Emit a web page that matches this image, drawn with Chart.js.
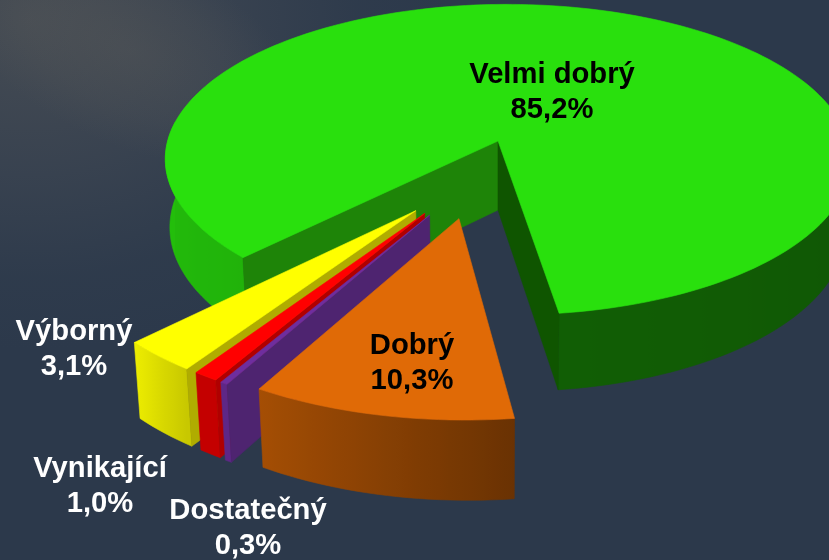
<!DOCTYPE html>
<html>
<head>
<meta charset="utf-8">
<title>Hodnocení</title>
<script src="https://cdn.jsdelivr.net/npm/chart.js@4/dist/chart.umd.min.js"></script>
<style>
  html, body { margin: 0; padding: 0; }
  body {
    position: relative;
    width: 829px; height: 560px; overflow: hidden;
    background:
      radial-gradient(ellipse 420px 330px at 30px 20px, rgba(78,82,86,.75), rgba(72,78,86,.45) 45%, rgba(60,70,82,.15) 78%, rgba(60,70,82,0) 100%),
      #2c394b;
  }
  #glow {
    position: absolute; left: -60px; top: -45px; width: 380px; height: 190px;
    transform: rotate(24deg);
    background: radial-gradient(ellipse closest-side, rgba(100,98,92,.28), rgba(100,98,92,.14) 60%, rgba(100,98,92,0) 100%);
  }
  canvas { display: block; position: relative; }
</style>
</head>
<body>
<div id="glow"></div>
<canvas id="pie" width="829" height="560"></canvas>
<script>
var categories = ["Velmi dobrý", "Dobrý", "Dostatečný", "Vynikající", "Výborný"];
var values = [85.2, 10.3, 0.3, 1.0, 3.1];

// slice styling, same order as categories
var topColors = ["#29e00d", "#e06a06", "#6e2e9e", "#ff0000", "#ffff00"];
var cutColors = [["#1e8408", "#0f5500"], [null, null], ["#4e2470", null], ["#b00000", null], ["#b0ac00", null]];
var wallShades = [
  [[90, .38], [172, .42], [225, .8], [270, .85]],
  [[171, .47], [209, .74]],
  [[200, .85], [220, .85]],
  [[200, .77], [220, .77]],
  [[213, .78], [225, .94]]
];
// how far each slice is pulled out of the pie, in pie radii
var pullU = [0, -.108, -.19, -.204, -.2294];
var pullV = [0, .477, .458, .448, .432];
// the big slice's rim sits a little off its tip
var rimU = [.009, 0, 0, 0, 0];
var rimV = [-.01, 0, 0, 0, 0];
// draw order, back to front
var drawOrder = [0, 4, 3, 2, 1];

var labelColors = ["#000", "#000", "#fff", "#fff", "#fff"];
var labelX = [552, 412, 248, 100, 74];
var labelY = [75, 346, 511, 469, 332];
var lineGap = 35;

// perspective of the pie
var cam = { cx: 498, cy: 141, a: 340, b: 153, c: 70, q: .13, p: .02, r: .014 };

function project(u, v, z) {
  var w = 1 - cam.q * v - cam.p * u + cam.r * z;
  return { x: cam.cx + cam.a * u / w, y: cam.cy + (cam.b * v + cam.c * z) / w };
}

function shadeAt(table, deg) {
  var d = ((deg % 360) + 360) % 360;
  if (d <= table[0][0]) return table[0][1];
  for (var i = 1; i < table.length; i++) {
    if (d <= table[i][0]) {
      var p = table[i - 1], n = table[i];
      return p[1] + (n[1] - p[1]) * (d - p[0]) / (n[0] - p[0]);
    }
  }
  return table[table.length - 1][1];
}

function darken(hex, f) {
  var n = parseInt(hex.slice(1), 16);
  return "rgb(" + Math.round((n >> 16) * f) + "," + Math.round(((n >> 8) & 255) * f) + "," + Math.round((n & 255) * f) + ")";
}

function poly(ctx, pts, color) {
  ctx.beginPath();
  pts.forEach(function (p, i) { i ? ctx.lineTo(p.x, p.y) : ctx.moveTo(p.x, p.y); });
  ctx.closePath();
  ctx.fillStyle = color;
  ctx.strokeStyle = color;
  ctx.lineWidth = .6;
  ctx.fill();
  ctx.stroke();
}

function drawSlice(ctx, arc, i) {
  var du = pullU[i], dv = pullV[i];
  // chart.js angles start at 3 o'clock, here 0 is 12 o'clock
  var a0 = arc.startAngle + Math.PI / 2, a1 = arc.endAngle + Math.PI / 2;
  function rim(a, z) { return project(du + rimU[i] + Math.sin(a), dv + rimV[i] - Math.cos(a), z); }

  var n = Math.max(1, Math.ceil((a1 - a0) / (Math.PI / 180 * 1.5)));

  function wallRun(run) {
    var top = run.map(function (a) { return rim(a, 0); });
    var bottom = run.map(function (a) { return rim(a, 1); }).reverse();
    var x0 = top[0].x, x1 = top[top.length - 1].x;
    if (Math.abs(x1 - x0) < 1) x1 = x0 + 1;
    var grad = ctx.createLinearGradient(x0, 0, x1, 0);
    run.forEach(function (a, k) {
      var pos = Math.min(1, Math.max(0, (top[k].x - x0) / (x1 - x0)));
      grad.addColorStop(pos, darken(topColors[i], shadeAt(wallShades[i], a * 180 / Math.PI)));
    });
    poly(ctx, top.concat(bottom), grad);
  }

  // outer wall, only the part turned to the viewer
  var run = [];
  for (var k = 0; k <= n; k++) {
    var a = a0 + (a1 - a0) * k / n;
    if (Math.cos(a) > .13) {
      if (run.length > 1) wallRun(run);
      run = [];
    } else {
      run.push(a);
    }
  }
  if (run.length > 1) wallRun(run);

  // cut walls
  var apexTop = project(du, dv, 0), apexBottom = project(du, dv, 1);
  if (cutColors[i][0]) poly(ctx, [apexTop, rim(a0, 0), rim(a0, 1), apexBottom], cutColors[i][0]);
  if (cutColors[i][1]) poly(ctx, [apexTop, rim(a1, 0), rim(a1, 1), apexBottom], cutColors[i][1]);

  // top face
  var face = [apexTop];
  for (var t = 0; t <= n; t++) face.push(rim(a0 + (a1 - a0) * t / n, 0));
  poly(ctx, face, topColors[i]);
}

var pie3d = {
  id: "pie3d",
  beforeDatasetDraw: function (chart, args) {
    var arcs = chart.getDatasetMeta(args.index).data;
    drawOrder.forEach(function (i) { drawSlice(chart.ctx, arcs[i], i); });
    return false;
  },
  afterDraw: function (chart) {
    var ctx = chart.ctx;
    ctx.save();
    ctx.font = "bold 29.2px 'Liberation Sans', Arial, sans-serif";
    ctx.textAlign = "center";
    ctx.textBaseline = "middle";
    categories.forEach(function (name, i) {
      ctx.fillStyle = labelColors[i];
      ctx.fillText(name, labelX[i], labelY[i]);
      ctx.fillText(values[i].toFixed(1).replace(".", ",") + "%", labelX[i], labelY[i] + lineGap);
    });
    ctx.restore();
  }
};

new Chart(document.getElementById("pie"), {
  type: "pie",
  data: {
    labels: categories,
    datasets: [{ data: values, backgroundColor: topColors, borderWidth: 0 }]
  },
  options: {
    responsive: false,
    animation: false,
    rotation: 224.5,
    events: [],
    plugins: { legend: { display: false }, tooltip: { enabled: false } }
  },
  plugins: [pie3d]
});
</script>
</body>
</html>
